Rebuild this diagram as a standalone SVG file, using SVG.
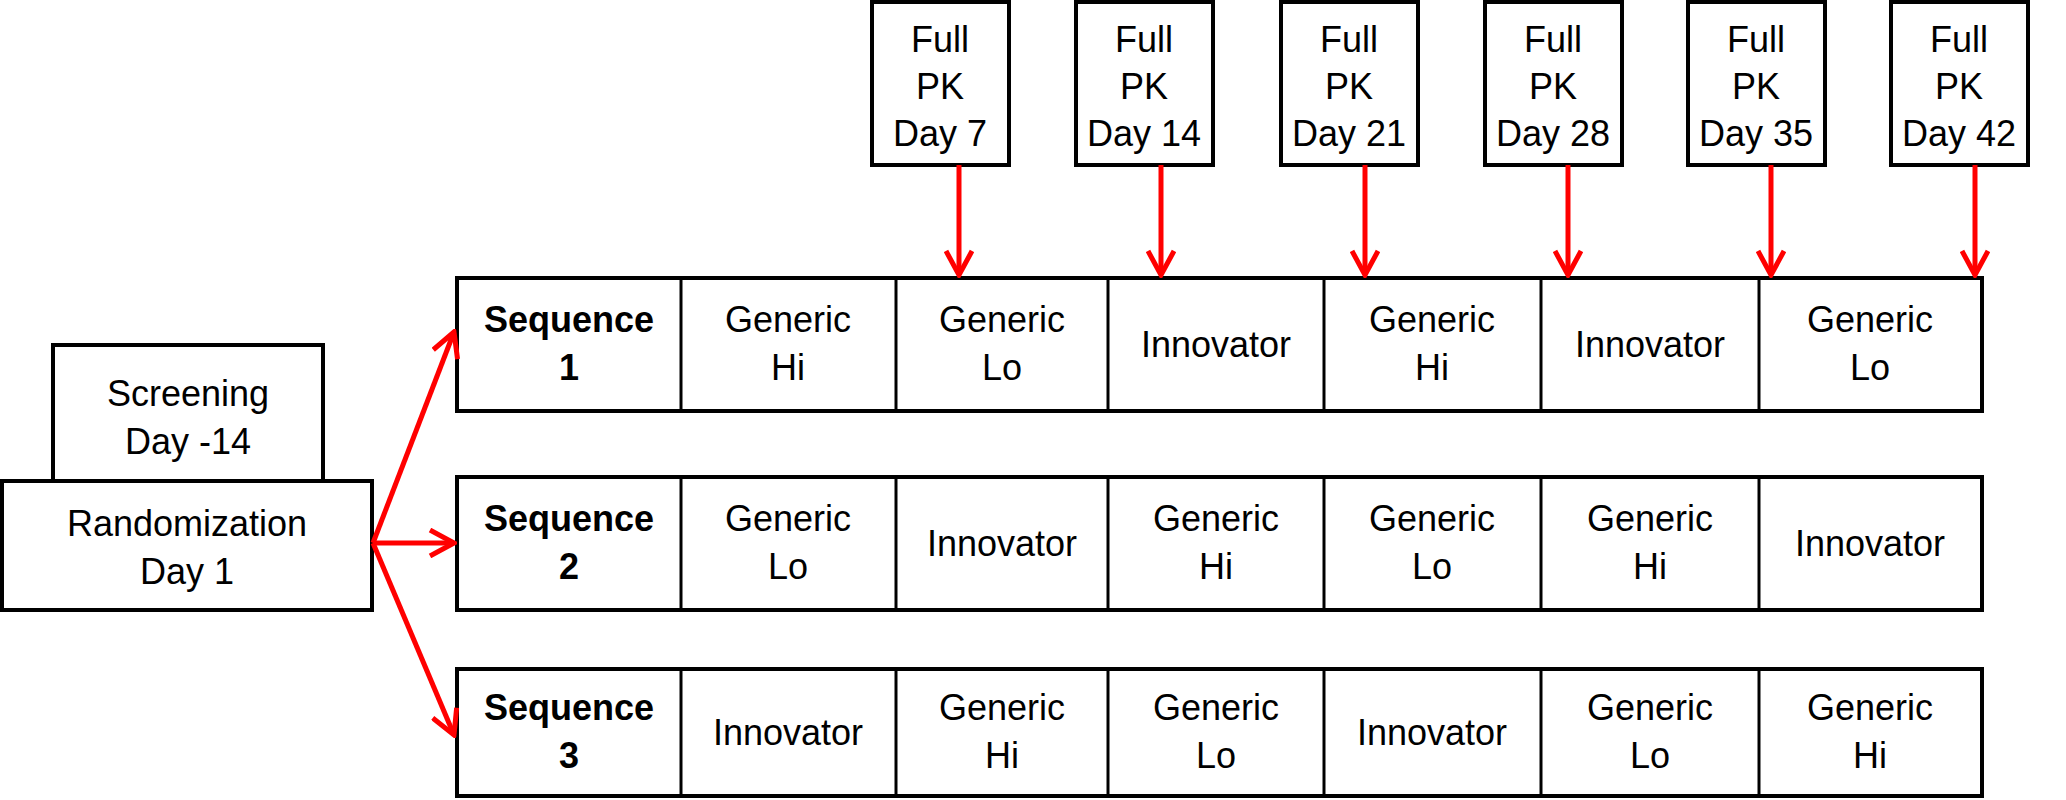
<svg xmlns="http://www.w3.org/2000/svg" width="2066" height="800" viewBox="0 0 2066 800">
<defs>
<style>
rect{fill:#fff;stroke:#000;stroke-width:4}
.c{stroke:#000;stroke-width:3}
text{font-family:"Liberation Sans",Arial,sans-serif;font-size:36px;text-anchor:middle;fill:#000}
.b{font-weight:bold}
.a{stroke:#f00;stroke-width:5;fill:none}
</style>
<marker id="ah" viewBox="0 0 30 30" refX="27" refY="15" markerWidth="30" markerHeight="30" markerUnits="userSpaceOnUse" orient="auto"><path d="M3,2 L27,15 L3,28" fill="none" stroke="#f00" stroke-width="5"/></marker>
</defs>
<rect x="0" y="0" width="2066" height="800" style="fill:#fff;stroke:none"/>
<g id="pk7"><rect x="872" y="2" width="137" height="163"/><text x="940" y="52">Full</text><text x="940" y="99">PK</text><text x="940" y="146">Day 7</text></g>
<g id="pk14"><rect x="1076" y="2" width="137" height="163"/><text x="1144" y="52">Full</text><text x="1144" y="99">PK</text><text x="1144" y="146">Day 14</text></g>
<g id="pk21"><rect x="1281" y="2" width="137" height="163"/><text x="1349" y="52">Full</text><text x="1349" y="99">PK</text><text x="1349" y="146">Day 21</text></g>
<g id="pk28"><rect x="1485" y="2" width="137" height="163"/><text x="1553" y="52">Full</text><text x="1553" y="99">PK</text><text x="1553" y="146">Day 28</text></g>
<g id="pk35"><rect x="1688" y="2" width="137" height="163"/><text x="1756" y="52">Full</text><text x="1756" y="99">PK</text><text x="1756" y="146">Day 35</text></g>
<g id="pk42"><rect x="1891" y="2" width="137" height="163"/><text x="1959" y="52">Full</text><text x="1959" y="99">PK</text><text x="1959" y="146">Day 42</text></g>
<g id="screening"><rect x="53" y="345" width="270" height="136"/><text x="188" y="406">Screening</text><text x="188" y="454">Day -14</text></g>
<g id="randomization"><rect x="2" y="481" width="370" height="129"/><text x="187" y="536">Randomization</text><text x="187" y="584">Day 1</text></g>
<g id="seq1"><rect x="457" y="278" width="1525" height="133"/>
<line class="c" x1="681" y1="278" x2="681" y2="411"/><line class="c" x1="896" y1="278" x2="896" y2="411"/><line class="c" x1="1108" y1="278" x2="1108" y2="411"/><line class="c" x1="1324" y1="278" x2="1324" y2="411"/><line class="c" x1="1541" y1="278" x2="1541" y2="411"/><line class="c" x1="1759" y1="278" x2="1759" y2="411"/>
<text class="b" x="569" y="332">Sequence</text><text class="b" x="569" y="380">1</text>
<text x="788" y="332">Generic</text><text x="788" y="380">Hi</text>
<text x="1002" y="332">Generic</text><text x="1002" y="380">Lo</text>
<text x="1216" y="357">Innovator</text>
<text x="1432" y="332">Generic</text><text x="1432" y="380">Hi</text>
<text x="1650" y="357">Innovator</text>
<text x="1870" y="332">Generic</text><text x="1870" y="380">Lo</text></g>
<g id="seq2"><rect x="457" y="477" width="1525" height="133"/>
<line class="c" x1="681" y1="477" x2="681" y2="610"/><line class="c" x1="896" y1="477" x2="896" y2="610"/><line class="c" x1="1108" y1="477" x2="1108" y2="610"/><line class="c" x1="1324" y1="477" x2="1324" y2="610"/><line class="c" x1="1541" y1="477" x2="1541" y2="610"/><line class="c" x1="1759" y1="477" x2="1759" y2="610"/>
<text class="b" x="569" y="531">Sequence</text><text class="b" x="569" y="579">2</text>
<text x="788" y="531">Generic</text><text x="788" y="579">Lo</text>
<text x="1002" y="556">Innovator</text>
<text x="1216" y="531">Generic</text><text x="1216" y="579">Hi</text>
<text x="1432" y="531">Generic</text><text x="1432" y="579">Lo</text>
<text x="1650" y="531">Generic</text><text x="1650" y="579">Hi</text>
<text x="1870" y="556">Innovator</text></g>
<g id="seq3"><rect x="457" y="669" width="1525" height="127"/>
<line class="c" x1="681" y1="669" x2="681" y2="796"/><line class="c" x1="896" y1="669" x2="896" y2="796"/><line class="c" x1="1108" y1="669" x2="1108" y2="796"/><line class="c" x1="1324" y1="669" x2="1324" y2="796"/><line class="c" x1="1541" y1="669" x2="1541" y2="796"/><line class="c" x1="1759" y1="669" x2="1759" y2="796"/>
<text class="b" x="569" y="720">Sequence</text><text class="b" x="569" y="768">3</text>
<text x="788" y="745">Innovator</text>
<text x="1002" y="720">Generic</text><text x="1002" y="768">Hi</text>
<text x="1216" y="720">Generic</text><text x="1216" y="768">Lo</text>
<text x="1432" y="745">Innovator</text>
<text x="1650" y="720">Generic</text><text x="1650" y="768">Lo</text>
<text x="1870" y="720">Generic</text><text x="1870" y="768">Hi</text></g>
<g id="connectors">
<line class="a" x1="959" y1="165" x2="959" y2="275" marker-end="url(#ah)"/>
<line class="a" x1="1161" y1="165" x2="1161" y2="275" marker-end="url(#ah)"/>
<line class="a" x1="1365" y1="165" x2="1365" y2="275" marker-end="url(#ah)"/>
<line class="a" x1="1568" y1="165" x2="1568" y2="275" marker-end="url(#ah)"/>
<line class="a" x1="1771" y1="165" x2="1771" y2="275" marker-end="url(#ah)"/>
<line class="a" x1="1975" y1="165" x2="1975" y2="275" marker-end="url(#ah)"/>
<line class="a" x1="373" y1="543" x2="454" y2="332" marker-end="url(#ah)"/>
<line class="a" x1="373" y1="543" x2="454" y2="543" marker-end="url(#ah)"/>
<line class="a" x1="373" y1="543" x2="454" y2="735" marker-end="url(#ah)"/>
</g>
</svg>
